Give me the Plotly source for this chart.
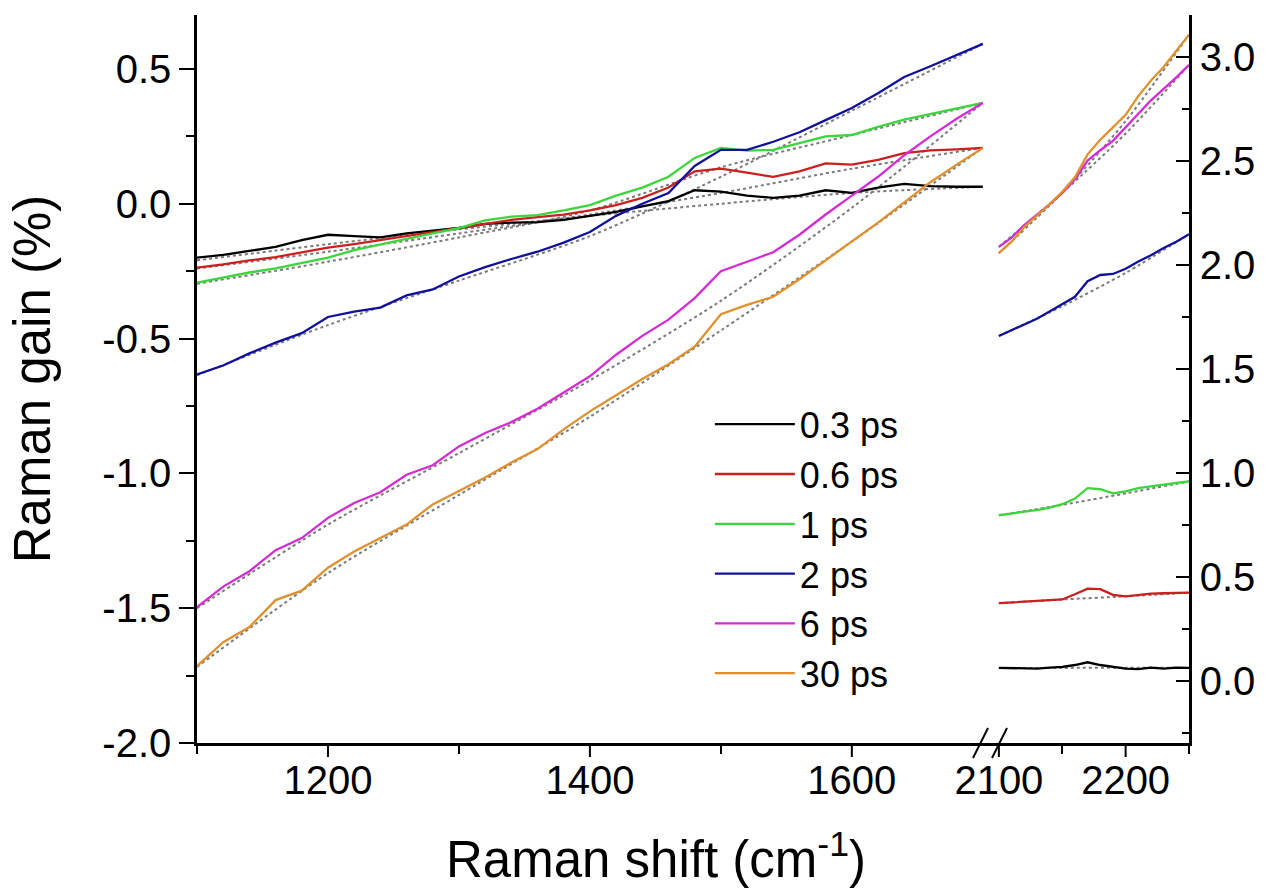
import plotly.graph_objects as go

# ---------------- data ----------------
labels = ["0.3 ps", "0.6 ps", "1 ps", "2 ps", "6 ps", "30 ps"]
colors = ["#000000", "#cc1f1f", "#3ad63a", "#10109c", "#d62ad6", "#e0902c"]

# left panel (1100-1700 cm-1), left y axis
x_left = [1100, 1120, 1140, 1160, 1180, 1200, 1220, 1240, 1260, 1280, 1300,
          1320, 1340, 1360, 1380, 1400, 1420, 1440, 1460, 1480, 1500,
          1520, 1540, 1560, 1580, 1600, 1620, 1640, 1660, 1680, 1700]

y_03_left = [-0.200, -0.190, -0.175, -0.160, -0.135, -0.115, -0.120, -0.125, -0.110, -0.100, -0.090,
             -0.075, -0.070, -0.068, -0.060, -0.045, -0.030, -0.010, 0.010, 0.050, 0.045,
             0.030, 0.022, 0.030, 0.050, 0.040, 0.060, 0.074, 0.065, 0.063, 0.063]
y_06_left = [-0.237, -0.225, -0.210, -0.198, -0.180, -0.163, -0.150, -0.135, -0.118, -0.105, -0.090,
             -0.075, -0.060, -0.050, -0.040, -0.025, -0.005, 0.022, 0.060, 0.120, 0.130,
             0.115, 0.100, 0.120, 0.150, 0.145, 0.163, 0.188, 0.198, 0.202, 0.207]
y_1_left = [-0.293, -0.275, -0.255, -0.240, -0.220, -0.200, -0.172, -0.150, -0.130, -0.110, -0.090,
            -0.062, -0.048, -0.042, -0.025, -0.005, 0.030, 0.060, 0.100, 0.170, 0.207,
            0.197, 0.200, 0.225, 0.250, 0.255, 0.285, 0.312, 0.332, 0.352, 0.374]
y_2_left = [-0.633, -0.600, -0.555, -0.515, -0.480, -0.420, -0.400, -0.385, -0.340, -0.318, -0.270,
            -0.235, -0.205, -0.178, -0.144, -0.105, -0.045, 0.000, 0.040, 0.140, 0.200,
            0.200, 0.230, 0.265, 0.310, 0.355, 0.410, 0.470, 0.510, 0.550, 0.593]
y_6_left = [-1.496, -1.420, -1.363, -1.285, -1.240, -1.165, -1.110, -1.070, -1.005, -0.970, -0.900,
            -0.850, -0.810, -0.760, -0.700, -0.640, -0.560, -0.490, -0.430, -0.350, -0.250,
            -0.215, -0.180, -0.115, -0.040, 0.030, 0.100, 0.180, 0.250, 0.315, 0.374]
y_30_left = [-1.715, -1.626, -1.570, -1.470, -1.435, -1.350, -1.290, -1.240, -1.190, -1.115, -1.065,
             -1.015, -0.960, -0.910, -0.837, -0.770, -0.710, -0.650, -0.595, -0.530, -0.410,
             -0.375, -0.345, -0.280, -0.210, -0.140, -0.070, 0.005, 0.080, 0.145, 0.207]

# baselines (grey dotted), left panel
xb_left = [1100, 1200, 1300, 1400, 1500, 1600, 1700]
b_03_left = [-0.210, -0.150, -0.095, -0.045, 0.000, 0.040, 0.063]
b_06_left = [-0.240, -0.178, -0.110, -0.040, 0.040, 0.130, 0.207]
b_1_left = [-0.297, -0.215, -0.125, -0.025, 0.135, 0.255, 0.374]
b_2_left = [-0.636, -0.450, -0.285, -0.120, 0.100, 0.345, 0.593]
b_6_left = [-1.500, -1.190, -0.925, -0.655, -0.360, -0.015, 0.374]
b_30_left = [-1.718, -1.370, -1.080, -0.790, -0.470, -0.140, 0.207]

# right panel (2100-2250 cm-1), right y axis
x_right = [2100, 2110, 2120, 2130, 2140, 2150, 2160, 2170, 2180, 2190,
           2200, 2210, 2220, 2230, 2240, 2250]
y_03_right = [0.061, 0.060, 0.062, 0.058, 0.062, 0.066, 0.075, 0.088, 0.075, 0.068,
              0.058, 0.055, 0.062, 0.058, 0.062, 0.061]
y_06_right = [0.372, 0.375, 0.378, 0.382, 0.386, 0.390, 0.415, 0.442, 0.440, 0.412,
              0.405, 0.413, 0.418, 0.420, 0.422, 0.423]
y_1_right = [0.795, 0.805, 0.812, 0.820, 0.832, 0.848, 0.875, 0.925, 0.920, 0.900,
             0.910, 0.925, 0.935, 0.942, 0.950, 0.958]
y_2_right = [1.657, 1.685, 1.715, 1.740, 1.775, 1.810, 1.845, 1.920, 1.950, 1.955,
             1.980, 2.015, 2.045, 2.080, 2.110, 2.146]
y_6_right = [2.085, 2.130, 2.190, 2.240, 2.290, 2.345, 2.410, 2.500, 2.550, 2.595,
             2.660, 2.730, 2.790, 2.845, 2.900, 2.960]
y_30_right = [2.055, 2.110, 2.180, 2.235, 2.290, 2.350, 2.420, 2.530, 2.600, 2.660,
              2.720, 2.810, 2.885, 2.950, 3.030, 3.105]

xb_right = [2100, 2150, 2200, 2250]
b_03_right = [0.060, 0.061, 0.062, 0.061]
b_06_right = [0.372, 0.390, 0.405, 0.423]
b_1_right = [0.795, 0.845, 0.900, 0.958]
b_2_right = [1.657, 1.800, 1.960, 2.146]
b_6_right = [2.085, 2.345, 2.630, 2.960]
b_30_right = [2.055, 2.345, 2.690, 3.105]

left_series = [y_03_left, y_06_left, y_1_left, y_2_left, y_6_left, y_30_left]
right_series = [y_03_right, y_06_right, y_1_right, y_2_right, y_6_right, y_30_right]
left_base = [b_03_left, b_06_left, b_1_left, b_2_left, b_6_left, b_30_left]
right_base = [b_03_right, b_06_right, b_1_right, b_2_right, b_6_right, b_30_right]

left_xticks = [1200, 1400, 1600]
left_xminor = [1100, 1300, 1500]
right_xticks = [2100, 2200]
right_xminor = [2150, 2250]
left_yticks = [-2.0, -1.5, -1.0, -0.5, 0.0, 0.5]
left_yticktext = ["-2.0", "-1.5", "-1.0", "-0.5", "0.0", "0.5"]
right_yticks = [0.0, 0.5, 1.0, 1.5, 2.0, 2.5, 3.0]
right_yticktext = ["0.0", "0.5", "1.0", "1.5", "2.0", "2.5", "3.0"]

# ---------------- figure ----------------
FONT = "Liberation Sans, Arial, sans-serif"
GREY = "#7a7a7a"
fig = go.Figure()

# baselines first (drawn beneath)
for b in left_base:
    fig.add_trace(go.Scatter(x=xb_left, y=b, mode="lines", xaxis="x", yaxis="y",
                             line=dict(color=GREY, width=2, dash="dot", shape="spline", smoothing=0.8),
                             showlegend=False, hoverinfo="skip"))
for b in right_base:
    fig.add_trace(go.Scatter(x=xb_right, y=b, mode="lines", xaxis="x2", yaxis="y2",
                             line=dict(color=GREY, width=2, dash="dot", shape="spline", smoothing=0.8),
                             showlegend=False, hoverinfo="skip"))

for lab, col, yl, yr in zip(labels, colors, left_series, right_series):
    fig.add_trace(go.Scatter(x=x_left, y=yl, mode="lines", name=lab, xaxis="x", yaxis="y",
                             line=dict(color=col, width=2.3), legendgroup=lab))
    fig.add_trace(go.Scatter(x=x_right, y=yr, mode="lines", name=lab, xaxis="x2", yaxis="y2",
                             line=dict(color=col, width=2.3), legendgroup=lab, showlegend=False))

split = (990 - 197) / 992.0
PLOT_H = 728.0

axis_common = dict(showline=True, linecolor="black", linewidth=2.5, showgrid=False,
                   zeroline=False, ticks="outside", tickwidth=2, tickcolor="black",
                   tickfont=dict(family=FONT, size=40, color="black"))

# long (major) x tick marks, drawn at the tick values of each x axis
major_tick_shapes = []
for xv in left_xticks:
    major_tick_shapes.append(dict(type="line", xref="x", yref="paper", x0=xv, x1=xv,
                                  y0=0, y1=-14 / PLOT_H, line=dict(color="black", width=2)))
for xv in right_xticks:
    major_tick_shapes.append(dict(type="line", xref="x2", yref="paper", x0=xv, x1=xv,
                                  y0=0, y1=-14 / PLOT_H, line=dict(color="black", width=2)))

break_shapes = [
    dict(type="line", xref="paper", yref="paper",
         x0=(973 - 197) / 992.0, y0=-(758 - 743) / PLOT_H,
         x1=(988 - 197) / 992.0, y1=(743 - 728) / PLOT_H,
         line=dict(color="black", width=2)),
    dict(type="line", xref="paper", yref="paper",
         x0=(992 - 197) / 992.0, y0=-(758 - 743) / PLOT_H,
         x1=(1007 - 197) / 992.0, y1=(743 - 728) / PLOT_H,
         line=dict(color="black", width=2)),
]

fig.update_layout(
    width=1271, height=895,
    margin=dict(l=197, r=82, t=15, b=152),
    paper_bgcolor="white", plot_bgcolor="white",
    font=dict(family=FONT, color="black"),
    xaxis=dict(axis_common, domain=[0, split], range=[1100, 1705.5], anchor="y",
               tickvals=left_xticks, ticks="",
               minor=dict(tickvals=left_xminor, ticklen=8, tickwidth=2,
                          tickcolor="black", ticks="outside")),
    xaxis2=dict(axis_common, domain=[split, 1], range=[2093, 2250], anchor="y2",
                tickvals=right_xticks, ticks="",
                minor=dict(tickvals=right_xminor, ticklen=8, tickwidth=2,
                           tickcolor="black", ticks="outside")),
    yaxis=dict(axis_common, range=[-2.0, 0.7], anchor="x", side="left",
               tickvals=left_yticks, ticktext=left_yticktext, ticklen=15,
               minor=dict(dtick=0.25, tick0=0, ticklen=8, tickwidth=2,
                          tickcolor="black", ticks="outside"),
               title=dict(text="Raman gain (%)", font=dict(family=FONT, size=51, color="black"),
                          standoff=36)),
    yaxis2=dict(axis_common, range=[-0.3, 3.2], anchor="x2", side="right",
                ticks="inside", tickvals=right_yticks, ticktext=right_yticktext, ticklen=13,
                minor=dict(dtick=0.25, tick0=0, ticklen=7, tickwidth=2,
                           tickcolor="black", ticks="inside")),
    legend=dict(x=0.517, y=0.479, xanchor="left", yanchor="top",
                bgcolor="rgba(0,0,0,0)", borderwidth=0,
                font=dict(family=FONT, size=36, color="black"),
                itemwidth=80, tracegroupgap=0),
    annotations=[dict(text="Raman shift (cm<sup>-1</sup>)", xref="paper", yref="paper",
                      x=(656 - 197) / 992.0, y=-(856 - 743) / PLOT_H,
                      xanchor="center", yanchor="middle", showarrow=False,
                      font=dict(family=FONT, size=51, color="black"))],
    shapes=major_tick_shapes + break_shapes,
)

fig.write_html("out.html", config={"displayModeBar": False},
               post_script="document.body.style.margin='0';")
